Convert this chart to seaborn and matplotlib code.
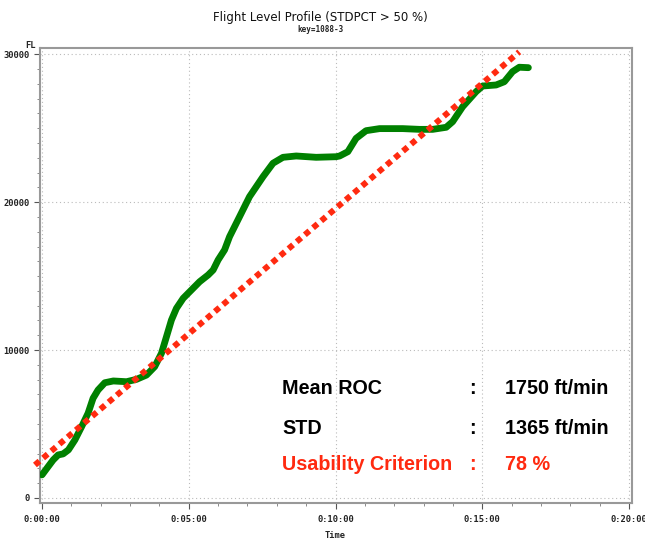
import matplotlib
matplotlib.use("Agg")
import matplotlib.pyplot as plt
from matplotlib.ticker import FuncFormatter, MultipleLocator
import seaborn as sns
import pandas as pd

# Flight profile (time in minutes, flight level in ft)
time_min = [0.0, 0.21, 0.38, 0.55, 0.72, 0.9, 1.12, 1.35, 1.57, 1.74,
            1.91, 2.14, 2.43, 2.88, 3.22, 3.56, 3.84, 4.07, 4.24, 4.41,
            4.58, 4.81, 5.09, 5.37, 5.66, 5.83, 6.0, 6.22, 6.39, 6.73,
            7.07, 7.53, 7.87, 8.21, 8.66, 9.34, 10.02, 10.14, 10.42, 10.7,
            11.04, 11.5, 12.29, 12.86, 13.31, 13.77, 13.99, 14.33, 14.79, 15.01,
            15.47, 15.75, 16.03, 16.26, 16.57]
flight_level = [1560, 2120, 2570, 2910, 2980, 3250, 3920, 4820, 5730, 6740,
                7300, 7790, 7910, 7860, 8020, 8310, 8880, 9780, 10900, 12030,
                12820, 13500, 14060, 14620, 15075, 15410, 16090, 16770, 17665, 19015,
                20370, 21720, 22630, 23030, 23120, 23030, 23070, 23120, 23410, 24310,
                24830, 24970, 24970, 24920, 24920, 25060, 25440, 26450, 27470, 27850,
                27920, 28140, 28820, 29120, 29090]

# Mean rate of climb reference line (overlay)
trend_time = [-0.24, 16.26]
trend_fl = [2230, 30160]

x_ticks = [0, 5, 10, 15, 20]
y_ticks = [0, 10000, 20000, 30000]

stat_labels = ["Mean ROC", "STD", "Usability Criterion"]
stat_values = ["1750 ft/min", "1365 ft/min", "78 %"]
stat_colors = ["black", "black", "#ff2a10"]

title = "Flight Level Profile (STDPCT > 50 %)"
subtitle = "key=1088-3"

sns.set_theme(style="white")
plt.rcParams["font.family"] = ["DejaVu Sans"]

fig = plt.figure(figsize=(6.45, 5.4), dpi=100)
ax = fig.add_axes([39.5 / 645, 37 / 540, (632 - 39.5) / 645, (503 - 48) / 540])

df = pd.DataFrame({"t": time_min, "fl": flight_level})
sns.lineplot(data=df, x="t", y="fl", ax=ax, color="#008000", lw=4.9,
             solid_capstyle="round", solid_joinstyle="round", zorder=3)

tr = pd.DataFrame({"t": trend_time, "fl": trend_fl})
sns.lineplot(data=tr, x="t", y="fl", ax=ax, color="#ff2a10", lw=4.3,
             linestyle=(0, (1.0, 0.8)), dash_capstyle="butt", clip_on=False, zorder=4)

ax.set_xlim(-0.085, 20.1)
ax.set_ylim(-340, 30420)

ax.set_xticks(x_ticks)
ax.set_yticks(y_ticks)
ax.xaxis.set_minor_locator(MultipleLocator(1))
ax.yaxis.set_minor_locator(MultipleLocator(1000))
ax.xaxis.set_major_formatter(FuncFormatter(lambda v, p: f"0:{int(round(v)):02d}:00"))
ax.yaxis.set_major_formatter(FuncFormatter(lambda v, p: f"{int(v)}"))

mono = {"family": "DejaVu Sans Mono", "weight": "bold", "size": 6.3}
for lab in ax.get_xticklabels() + ax.get_yticklabels():
    lab.set_fontfamily("DejaVu Sans Mono")
    lab.set_fontweight("bold")
    lab.set_fontsize(6.3)
    lab.set_color("#222222")

ax.tick_params(axis="both", which="major", direction="out", length=4, width=0.8,
               color="#555555", bottom=True, left=True, pad=5)
ax.tick_params(axis="both", which="minor", direction="out", length=2.5, width=0.6,
               color="#777777", bottom=True, left=True)
ax.tick_params(axis="y", which="major", pad=3)

ax.grid(True, which="major", color="#bbbbbb", lw=0.8, linestyle=(0, (1, 2.5)))
for side, sp in ax.spines.items():
    sp.set_visible(True)
    sp.set_color("#999999")
    sp.set_linewidth(1.5)

ax.set_xlabel("")
ax.set_ylabel("")
fig.text(335 / 645, 1 - 536 / 540, "Time", ha="center", va="center", **mono)
fig.text(30 / 645, 1 - 45 / 540, "FL", ha="center", va="center", **mono)

fig.text(320 / 645, 1 - 17 / 540, title, ha="center", va="center",
         fontsize=8.5, family="DejaVu Sans", color="#111111")
fig.text(320 / 645, 1 - 29 / 540, subtitle, ha="center", va="center",
         fontsize=5.5, family="DejaVu Sans Mono", weight="bold", color="#222222")

ys = [388, 428, 465]
for lab, val, col, y in zip(stat_labels, stat_values, stat_colors, ys):
    yf = 1 - y / 540
    kw = dict(va="center", fontsize=14.2, family="Liberation Sans", weight="bold", color=col)
    fig.text(282 / 645, yf, lab, ha="left", **kw)
    fig.text(472 / 645, yf, ":", ha="center", **kw)
    fig.text(505 / 645, yf, val, ha="left", **kw)

fig.savefig("out.png", dpi=100, facecolor="white")
